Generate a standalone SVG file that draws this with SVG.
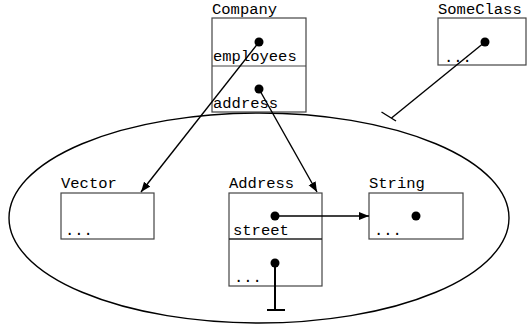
<svg xmlns="http://www.w3.org/2000/svg" width="527" height="327" viewBox="0 0 527 327">
<defs>
<style>
.box{fill:#fff;stroke:#444;stroke-width:1.2}
.lbl{font-family:"Liberation Mono","Courier New",monospace;font-size:15.5px;fill:#000}
.dot{fill:#000}
.edge{stroke:#000;stroke-width:1.4;fill:none}
.tee{stroke:#000;stroke-width:2;fill:none}
</style>
<marker id="arr" viewBox="0 0 10 10" refX="10" refY="5" markerWidth="10" markerHeight="10" markerUnits="userSpaceOnUse" orient="auto">
<path d="M0,1 L10,5 L0,9 Z" fill="#000"/>
</marker>
</defs>
<rect width="527" height="327" fill="#fff"/>
<ellipse cx="259" cy="218" rx="250" ry="105" fill="none" stroke="#000" stroke-width="1.4"/>
<g id="company">
<text class="lbl" x="212" y="14">Company</text>
<rect class="box" x="212" y="18" width="94" height="94"/>
<line x1="212" y1="66" x2="306" y2="66" stroke="#444" stroke-width="1.2"/>
<text class="lbl" x="213" y="61">employees</text>
<text class="lbl" x="213" y="108">address</text>
</g>
<g id="someclass">
<text class="lbl" x="438" y="14">SomeClass</text>
<rect class="box" x="438" y="18" width="88" height="47"/>
<text class="lbl" x="444" y="62">...</text>
</g>
<g id="vector">
<text class="lbl" x="61" y="188">Vector</text>
<rect class="box" x="61" y="193" width="93" height="46"/>
<text class="lbl" x="65" y="235">...</text>
</g>
<g id="address">
<text class="lbl" x="229" y="188">Address</text>
<rect class="box" x="229" y="193" width="93" height="93"/>
<line x1="229" y1="239" x2="322" y2="239" stroke="#222" stroke-width="1.4"/>
<text class="lbl" x="233" y="235">street</text>
<text class="lbl" x="234" y="282">...</text>
</g>
<g id="string">
<text class="lbl" x="369" y="188">String</text>
<rect class="box" x="369" y="193" width="94" height="46"/>
<text class="lbl" x="374" y="235">...</text>
</g>
<g id="connectors">
<line class="edge" x1="259" y1="42" x2="141" y2="192" marker-end="url(#arr)"/>
<line class="edge" x1="259" y1="89" x2="317" y2="192" marker-end="url(#arr)"/>
<line class="edge" x1="275" y1="216" x2="369" y2="216" marker-end="url(#arr)"/>
<line class="edge" x1="485" y1="42" x2="391.5" y2="118"/>
<line class="edge" x1="381.5" y1="112" x2="396" y2="121"/>
<line class="tee" x1="275" y1="263" x2="275" y2="310"/>
<line class="tee" x1="267" y1="310" x2="285" y2="310"/>
<circle class="dot" cx="259" cy="42" r="4.5"/>
<circle class="dot" cx="259" cy="89" r="4.5"/>
<circle class="dot" cx="485" cy="42" r="4.5"/>
<circle class="dot" cx="275" cy="216" r="4.5"/>
<circle class="dot" cx="275" cy="263" r="4.5"/>
<circle class="dot" cx="416" cy="216" r="4.5"/>
</g>
</svg>
